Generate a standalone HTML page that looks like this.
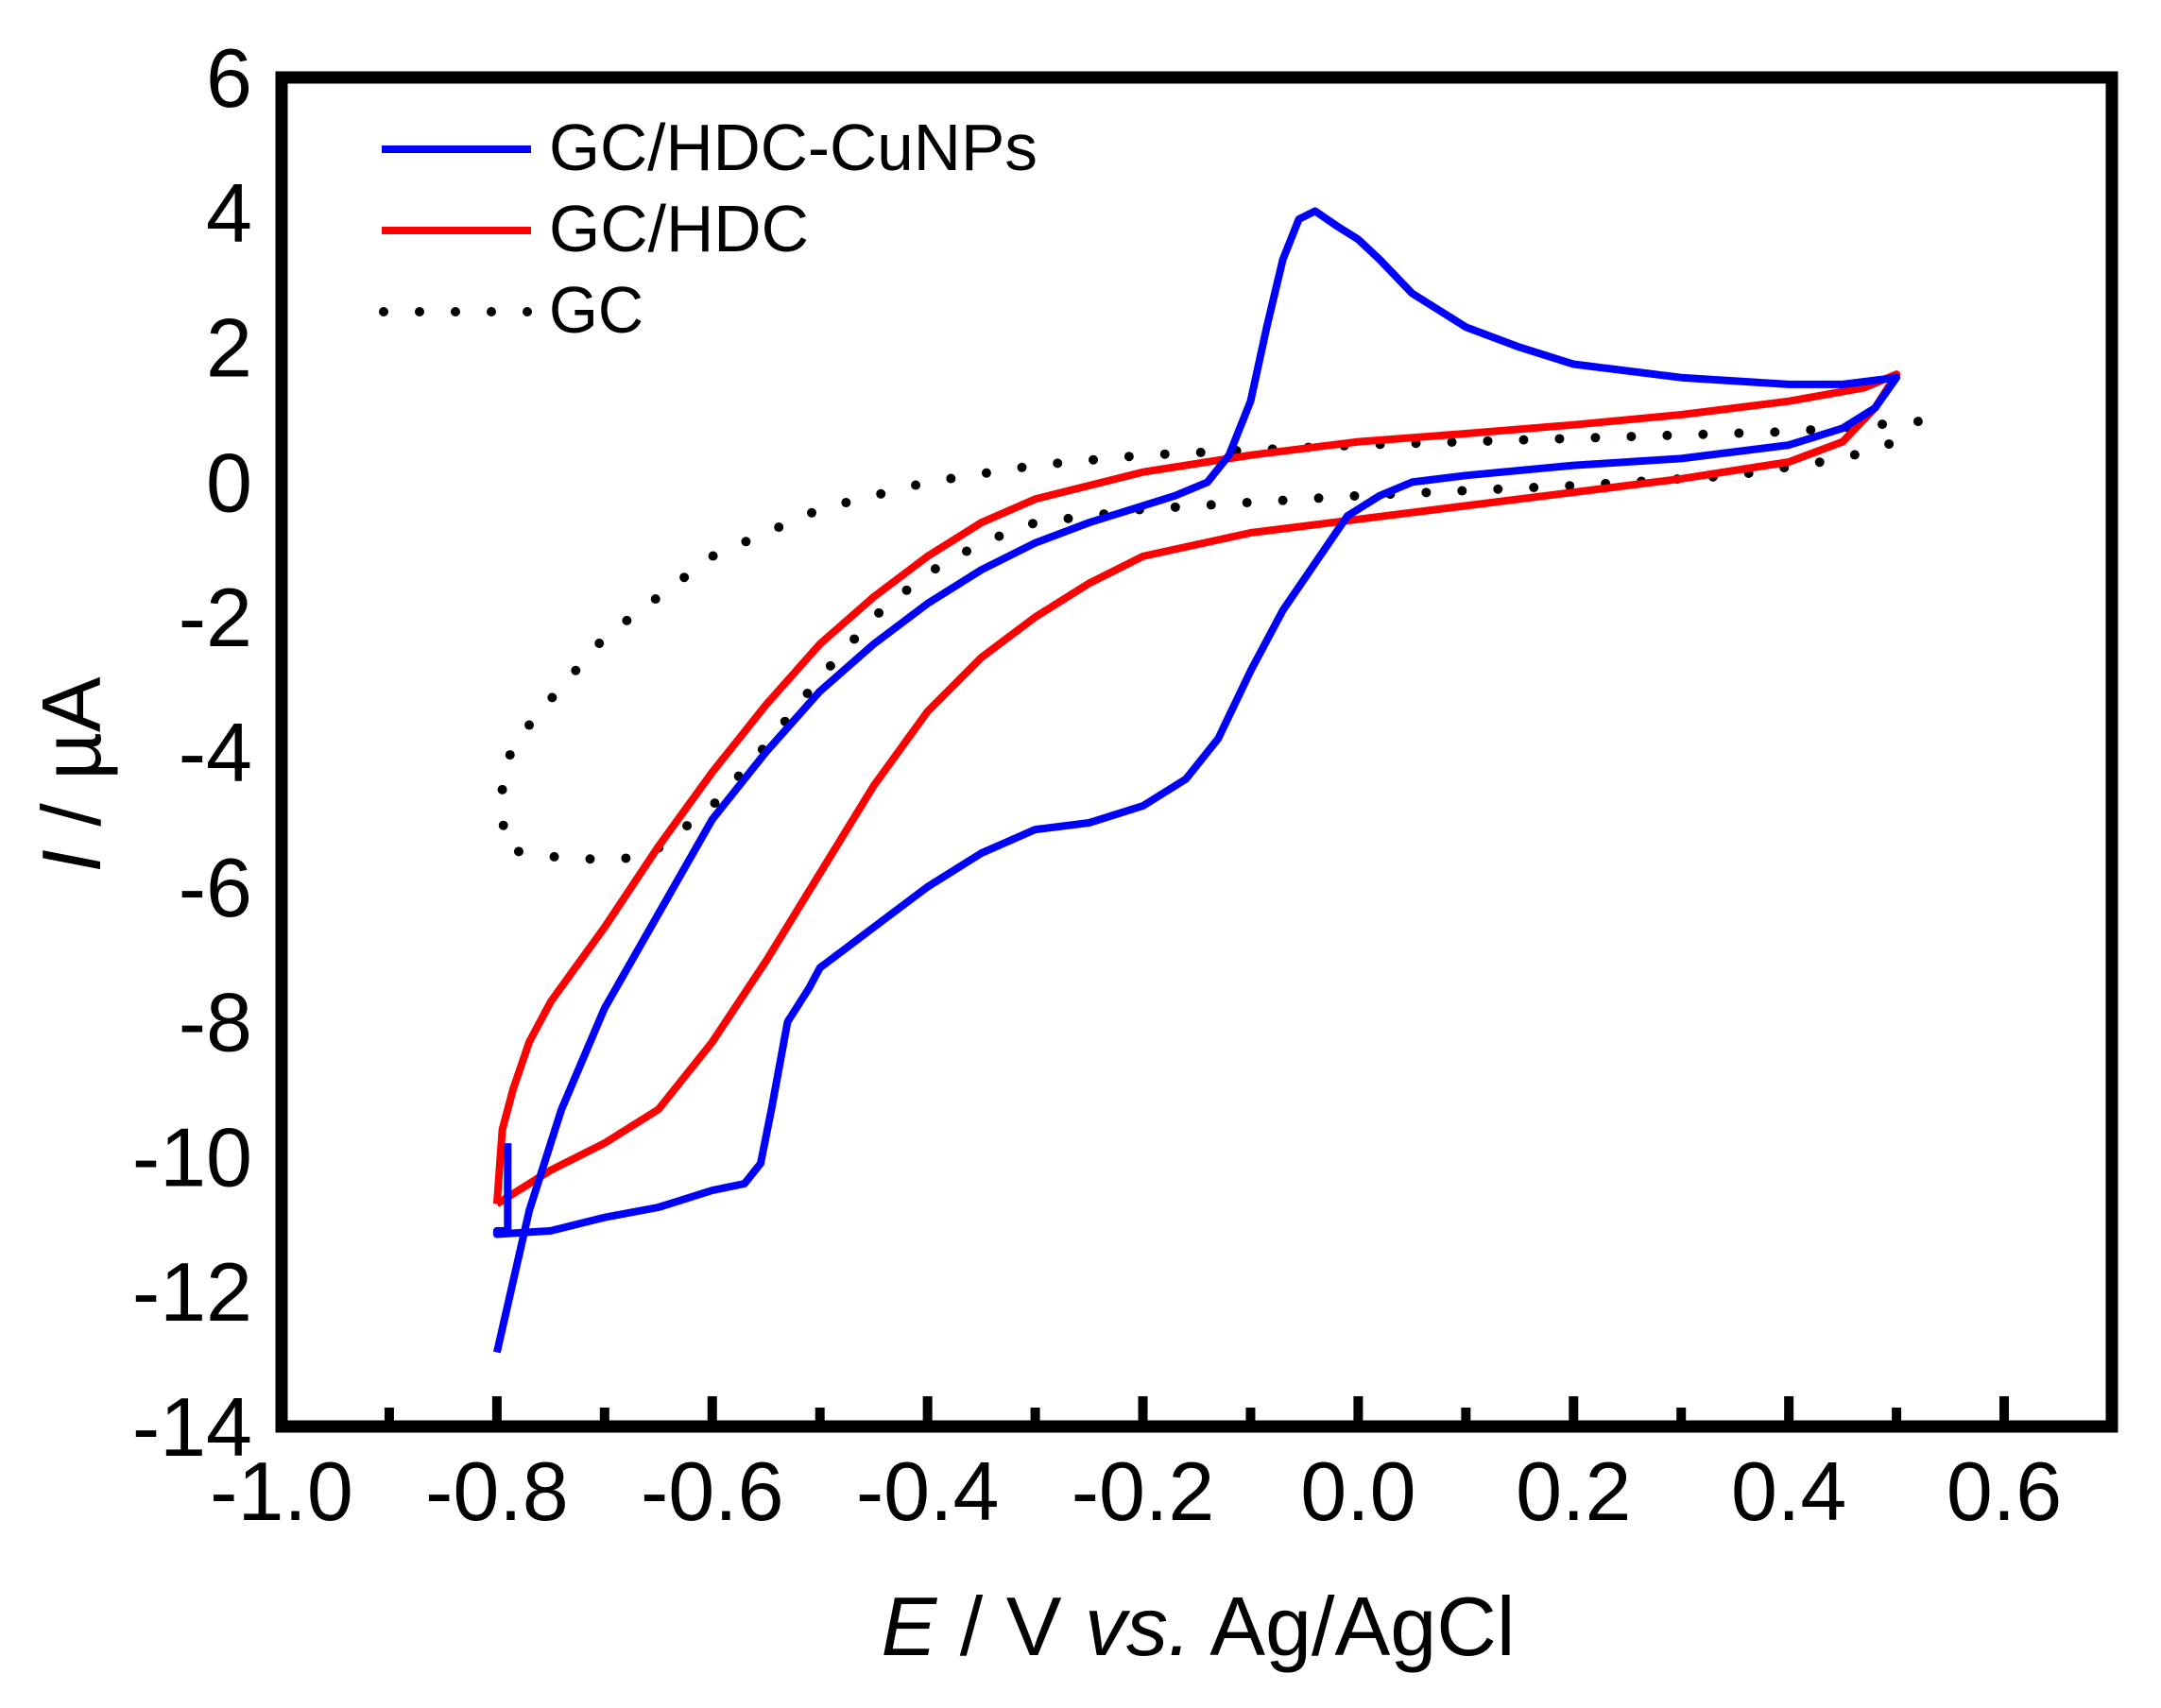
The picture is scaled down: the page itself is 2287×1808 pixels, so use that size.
<!DOCTYPE html>
<html><head><meta charset="utf-8"><style>
html,body{margin:0;padding:0;background:#fff;}
svg{display:block;}
text{font-family:"Liberation Sans",Arial,sans-serif;fill:#000;}
</style></head><body>
<svg id="s" width="2287" height="1808" xmlns="http://www.w3.org/2000/svg">
<g id="curves" fill="none" stroke-linejoin="round"></g>
<rect x="298" y="82" width="1937" height="1428" fill="none" stroke="#000" stroke-width="13"/>
<g id="ticks" stroke="#000" stroke-width="10"></g>
<g font-size="88" text-anchor="end" id="ylab"></g>
<g font-size="88" text-anchor="middle" id="xlab"></g>
<text x="1268" y="1752" font-size="88" text-anchor="middle" textLength="671" lengthAdjust="spacingAndGlyphs"><tspan font-style="italic">E</tspan> / V <tspan font-style="italic">vs.</tspan> Ag/AgCl</text>
<text transform="translate(106,820) rotate(-90)" font-size="88" text-anchor="middle"><tspan font-style="italic">I</tspan> / µA</text>
<line x1="404" y1="158" x2="562" y2="158" stroke="#0000ff" stroke-width="8"/>
<line x1="404" y1="244" x2="562" y2="244" stroke="#ff0000" stroke-width="8"/>
<line x1="406" y1="330" x2="562" y2="330" stroke="#000" stroke-width="10" stroke-dasharray="0 38" stroke-linecap="round"/>
<text x="581" y="180" font-size="70" textLength="517" lengthAdjust="spacingAndGlyphs">GC/HDC-CuNPs</text>
<text x="581" y="266" font-size="70" textLength="275" lengthAdjust="spacingAndGlyphs">GC/HDC</text>
<text x="581" y="352" font-size="70" textLength="100" lengthAdjust="spacingAndGlyphs">GC</text>
</svg>
<script>
var X=function(v){return 298+(v+1)*1139.4;},Y=function(i){return 82+(6-i)*71.4;};
function path(pts){return pts.map(function(p,k){return (k?'L':'M')+X(p[0]).toFixed(1)+' '+Y(p[1]).toFixed(1);}).join(' ');}
var blue=[[-0.79,-9.8],[-0.79,-11.1],[-0.8,-11.1],[-0.8,-11.15],[-0.75,-11.1],[-0.7,-10.9],[-0.65,-10.75],[-0.6,-10.5],[-0.57,-10.4],[-0.555,-10.1],[-0.545,-9.3],[-0.53,-8.0],[-0.51,-7.5],[-0.5,-7.2],[-0.45,-6.6],[-0.4,-6.0],[-0.35,-5.5],[-0.3,-5.15],[-0.25,-5.05],[-0.2,-4.8],[-0.16,-4.4],[-0.13,-3.8],[-0.1,-2.8],[-0.07,-1.9],[-0.04,-1.2],[-0.01,-0.5],[0.02,-0.2],[0.05,0],[0.1,0.1],[0.2,0.25],[0.3,0.35],[0.4,0.55],[0.45,0.8],[0.48,1.1],[0.5,1.55],[0.45,1.45],[0.4,1.45],[0.3,1.55],[0.2,1.75],[0.15,2.0],[0.1,2.3],[0.05,2.8],[0.02,3.3],[0,3.6],[-0.02,3.8],[-0.04,4.02],[-0.055,3.9],[-0.07,3.3],[-0.085,2.3],[-0.1,1.2],[-0.12,0.4],[-0.14,0],[-0.17,-0.2],[-0.2,-0.35],[-0.25,-0.6],[-0.3,-0.9],[-0.35,-1.3],[-0.4,-1.8],[-0.45,-2.4],[-0.5,-3.1],[-0.55,-4.0],[-0.6,-5.0],[-0.65,-6.4],[-0.7,-7.8],[-0.74,-9.3],[-0.77,-10.8],[-0.8,-12.9]];
var red=[[-0.8,-10.7],[-0.795,-9.6],[-0.785,-9.0],[-0.77,-8.3],[-0.75,-7.7],[-0.7,-6.6],[-0.65,-5.4],[-0.6,-4.3],[-0.55,-3.3],[-0.5,-2.4],[-0.45,-1.7],[-0.4,-1.1],[-0.35,-0.6],[-0.3,-0.25],[-0.2,0.15],[-0.1,0.4],[0,0.6],[0.1,0.72],[0.2,0.85],[0.3,1.0],[0.4,1.2],[0.47,1.4],[0.5,1.6],[0.48,1.1],[0.45,0.6],[0.4,0.3],[0.3,0.05],[0.2,-0.15],[0.1,-0.35],[0,-0.55],[-0.1,-0.75],[-0.2,-1.1],[-0.25,-1.5],[-0.3,-2.0],[-0.35,-2.6],[-0.4,-3.4],[-0.45,-4.5],[-0.5,-5.8],[-0.55,-7.1],[-0.6,-8.3],[-0.65,-9.3],[-0.7,-9.8],[-0.75,-10.2],[-0.8,-10.7]];
var gc=[[0.52,0.9],[0.4,0.75],[0.2,0.65],[0,0.55],[-0.2,0.4],[-0.3,0.25],[-0.4,0.0],[-0.5,-0.4],[-0.6,-1.1],[-0.7,-2.3],[-0.76,-3.4],[-0.785,-3.9],[-0.795,-4.4],[-0.795,-5.0],[-0.79,-5.45],[-0.75,-5.55],[-0.7,-5.6],[-0.66,-5.55],[-0.6,-4.8],[-0.55,-3.9],[-0.5,-2.9],[-0.45,-2.0],[-0.4,-1.35],[-0.35,-0.9],[-0.3,-0.6],[-0.2,-0.4],[-0.1,-0.3],[0,-0.2],[0.2,-0.05],[0.35,0.1],[0.45,0.35],[0.5,0.6]];
var g=document.getElementById('curves'),NS='http://www.w3.org/2000/svg';
function add(d,c,w,dash){var p=document.createElementNS(NS,'path');p.setAttribute('d',d);p.setAttribute('stroke',c);p.setAttribute('stroke-width',w);if(dash){p.setAttribute('stroke-dasharray','0 38');p.setAttribute('stroke-linecap','round');}g.appendChild(p);}
add(path(gc),'#000',10,true);add(path(red),'#ff0000',8);add(path(blue),'#0000ff',8);
var t=document.getElementById('ticks'),s='';
for(var k=1;k<17;k++){var x=X(-1+k*0.1),L=(k%2==0)?32:20;s+='<line x1="'+x+'" y1="1510" x2="'+x+'" y2="'+(1510-L)+'"/>';}
t.innerHTML=s;
var yl=document.getElementById('ylab'),h='';
for(var v=6;v>=-14;v-=2){h+='<text x="267" y="'+(Y(v)+31)+'">'+v+'</text>';}
yl.innerHTML=h;
var xl=document.getElementById('xlab'),xs='';
var labs=['-1.0','-0.8','-0.6','-0.4','-0.2','0.0','0.2','0.4','0.6'];
for(var k=0;k<9;k++){xs+='<text x="'+X(-1+k*0.2)+'" y="1609">'+labs[k]+'</text>';}
xl.innerHTML=xs;
</script>
</body></html>
